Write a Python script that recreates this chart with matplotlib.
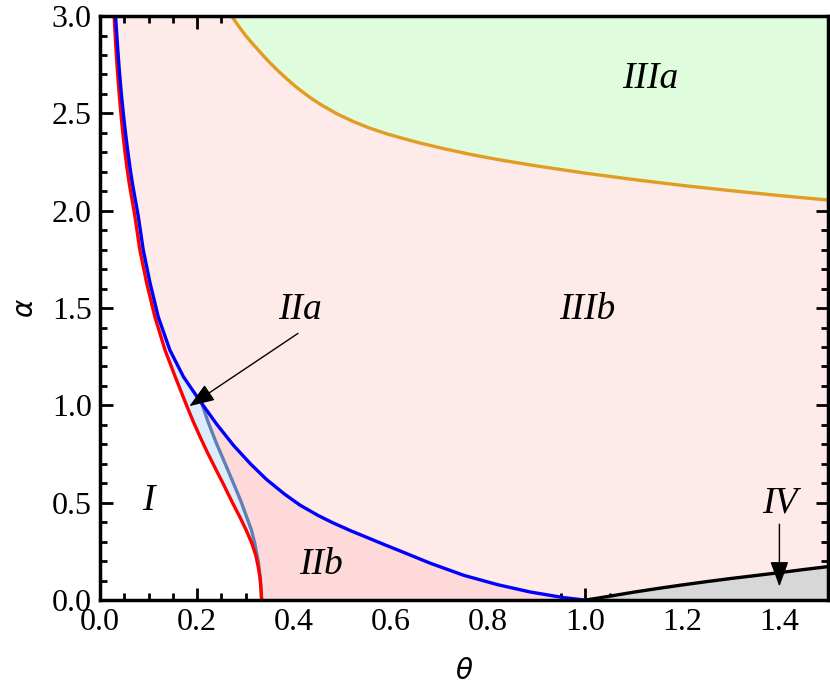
import numpy as np
import matplotlib
matplotlib.use('Agg')
from matplotlib import pyplot as plt
from matplotlib.ticker import MultipleLocator

# region boundaries (theta, alpha)
red_theta = [0.029, 0.0324, 0.0358, 0.0395, 0.043, 0.047, 0.051, 0.0556, 0.0602, 0.072,
             0.082, 0.096, 0.113, 0.134, 0.155, 0.172, 0.182, 0.192, 0.205, 0.220,
             0.237, 0.254, 0.271, 0.288, 0.302, 0.313, 0.321, 0.326, 0.330, 0.332, 0.333]
red_alpha = [3.00, 2.85, 2.72, 2.60, 2.50, 2.40, 2.31, 2.22, 2.14, 1.97,
             1.80, 1.63, 1.455, 1.284, 1.147, 1.040, 0.978, 0.918, 0.845, 0.765,
             0.680, 0.597, 0.51, 0.428, 0.355, 0.291, 0.23, 0.171, 0.11, 0.05, 0.0]

blue_theta = [0.032, 0.036, 0.0398, 0.044, 0.048, 0.0525, 0.057, 0.0619, 0.0668, 0.079,
              0.089, 0.103, 0.120, 0.144, 0.172, 0.199, 0.210, 0.240, 0.275, 0.310,
              0.343, 0.380, 0.412, 0.450, 0.480, 0.515, 0.550, 0.590, 0.620, 0.680,
              0.750, 0.820, 0.886, 0.955, 1.000]
blue_alpha = [3.00, 2.85, 2.72, 2.60, 2.50, 2.40, 2.31, 2.22, 2.14, 1.97,
              1.80, 1.63, 1.455, 1.284, 1.147, 1.048, 1.009, 0.905, 0.795, 0.700,
              0.620, 0.545, 0.488, 0.434, 0.397, 0.358, 0.322, 0.281, 0.251, 0.190,
              0.127, 0.079, 0.042, 0.013, 0.0]

steel_theta = [0.210, 0.222, 0.240, 0.258, 0.275, 0.290, 0.302, 0.312, 0.319, 0.326, 0.330, 0.333]
steel_alpha = [1.009, 0.92, 0.805, 0.70, 0.60, 0.51, 0.428, 0.36, 0.291, 0.20, 0.12, 0.0]

orange_theta = [0.271, 0.285, 0.300, 0.316, 0.333, 0.350, 0.368, 0.385, 0.402, 0.419,
                0.436, 0.453, 0.488, 0.522, 0.556, 0.591, 0.625, 0.659, 0.710, 0.762,
                0.824, 0.900, 1.000, 1.100, 1.200, 1.300, 1.400, 1.500]
orange_alpha = [3.00, 2.950, 2.900, 2.853, 2.806, 2.760, 2.716, 2.677, 2.640, 2.607,
                2.576, 2.548, 2.498, 2.458, 2.424, 2.395, 2.371, 2.348, 2.318, 2.290,
                2.261, 2.230, 2.193, 2.160, 2.130, 2.103, 2.078, 2.055]

black_theta = [1.00, 1.05, 1.10, 1.15, 1.20, 1.25, 1.30, 1.35, 1.40, 1.45, 1.50]
black_alpha = [0.0, 0.020, 0.041, 0.060, 0.078, 0.095, 0.111, 0.126, 0.141, 0.157, 0.172]

# region labels: text, (theta, alpha)
labels = ['IIIa', 'IIIb', 'IIa', 'I', 'IIb', 'IV']
label_pos = [(1.133, 2.68), (1.004, 1.49), (0.412, 1.49), (0.099, 0.51), (0.455, 0.18), (1.40, 0.50)]

C_IIIB = '#ffeaea'
C_IIB = '#fdd9da'
C_IIA = '#dcecfb'
C_IIIA = '#dffcdc'
C_IV = '#d7d7d7'

fig = plt.figure(figsize=(8.3, 6.97), dpi=100)
ax = fig.add_axes([0.1205, 0.139, 0.877, 0.838])

rt, ra = np.array(red_theta), np.array(red_alpha)
bt, ba = np.array(blue_theta), np.array(blue_alpha)
st, sa = np.array(steel_theta), np.array(steel_alpha)

# IIIb base: everything right of the red curve
ax.fill(np.r_[rt, 1.5, 1.5], np.r_[ra, 0.0, 3.0], color=C_IIIB, lw=0, zorder=1)
# IIIa above the orange curve
ax.fill_between(orange_theta, orange_alpha, 3.0, color=C_IIIA, lw=0, zorder=2)
# IIb: right of steel blue, below blue
k = list(blue_theta).index(0.210)
ax.fill(np.r_[st[::-1], bt[k:]], np.r_[sa[::-1], ba[k:]], color=C_IIB, lw=0, zorder=2)
# IIa: between red and blue/steel blue
ax.fill(np.r_[rt[::-1], bt[:k + 1], st], np.r_[ra[::-1], ba[:k + 1], sa],
        color=C_IIA, lw=0, zorder=2)
# IV below the black curve
ax.fill_between(black_theta, 0, black_alpha, color=C_IV, lw=0, zorder=2)

ax.plot(orange_theta, orange_alpha, color='#e19c24', lw=2.4, zorder=4)
ax.plot(st, sa, color='#5e81b5', lw=2.4, zorder=4)
ax.plot(rt, ra, color='#ff0000', lw=2.4, zorder=5)
ax.plot(bt, ba, color='#0000ff', lw=2.4, zorder=5)
ax.plot(black_theta, black_alpha, color='black', lw=2.4, zorder=5)

for txt, (x, y) in zip(labels, label_pos):
    ax.text(x, y, txt, fontsize=27, family='Liberation Serif', style='italic',
            ha='center', va='center', zorder=6)

arrow = dict(arrowstyle='-|>,head_length=0.6,head_width=0.22', mutation_scale=26,
             lw=1.0, color='black', shrinkA=0, shrinkB=0)
ax.annotate('', xy=(0.184, 0.996), xytext=(0.408, 1.37), arrowprops=arrow, zorder=7)
ax.annotate('', xy=(1.40, 0.07), xytext=(1.40, 0.39), arrowprops=arrow, zorder=7)

ax.set_xlim(0, 1.5)
ax.set_ylim(0, 3.0)
ax.xaxis.set_major_locator(MultipleLocator(0.2))
ax.xaxis.set_minor_locator(MultipleLocator(0.05))
ax.yaxis.set_major_locator(MultipleLocator(0.5))
ax.yaxis.set_minor_locator(MultipleLocator(0.1))
ax.xaxis.set_major_formatter(plt.FuncFormatter(lambda v, p: f'{v:.1f}'))
ax.yaxis.set_major_formatter(plt.FuncFormatter(lambda v, p: f'{v:.1f}'))
ax.tick_params(which='both', direction='in', top=True, right=True, width=2.0,
               labelsize=23, pad=6)
ax.tick_params(which='major', length=9)
ax.tick_params(which='minor', length=5)
for lab in ax.get_xticklabels() + ax.get_yticklabels():
    lab.set_family('Liberation Serif')
for sp in ax.spines.values():
    sp.set_linewidth(2.5)
    sp.set_zorder(8)

ax.set_xlabel('θ', fontsize=20, style='italic', family='DejaVu Sans', labelpad=14)
ax.set_ylabel('α', fontsize=20, style='italic', family='DejaVu Sans', labelpad=10)

fig.savefig('out.png', dpi=100)
